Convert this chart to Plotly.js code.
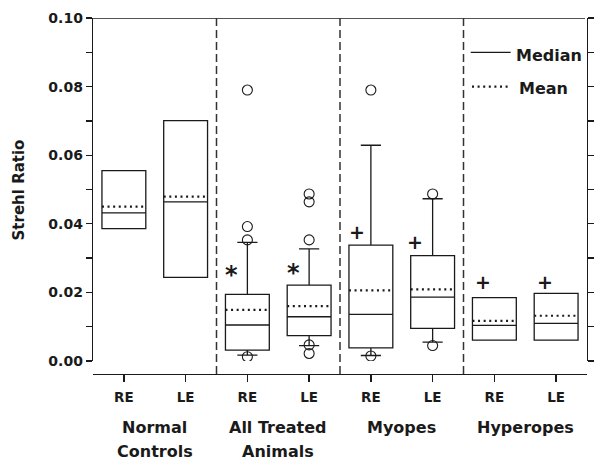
<!DOCTYPE html>
<html>
<head>
<meta charset="utf-8">
<script src="https://cdn.plot.ly/plotly-3.0.1.min.js"></script>
<style>html,body{margin:0;padding:0;background:#fff;}#chart{width:607px;height:466px;}</style>
</head>
<body>
<div id="chart"></div>
<script>
// ---- data ----
var positions   = [0, 1, 2, 3, 4, 5, 6, 7];
var eyeLabels   = ["RE", "LE", "RE", "LE", "RE", "LE", "RE", "LE"];
var groupLine1  = ["Normal", "All Treated", "Myopes", "Hyperopes"];
var groupLine2  = ["Controls", "Animals", "", ""];
var groupCenters = [0.5, 2.5, 4.5, 6.5];
var separators  = [1.5, 3.5, 5.5];

var q1         = [0.0386, 0.0244, 0.0032, 0.0074, 0.0038, 0.0095, 0.0061, 0.0061];
var medians    = [0.0432, 0.0464, 0.0105, 0.0129, 0.0136, 0.0186, 0.0104, 0.0110];
var q3         = [0.0555, 0.0701, 0.0194, 0.0221, 0.0338, 0.0307, 0.0185, 0.0197];
var lowerFence = [0.0386, 0.0244, 0.0017, 0.0045, 0.0016, 0.0055, 0.0061, 0.0061];
var upperFence = [0.0555, 0.0701, 0.0346, 0.0327, 0.0629, 0.0473, 0.0185, 0.0197];
var means      = [0.0450, 0.0479, 0.0149, 0.0160, 0.0206, 0.0209, 0.0117, 0.0132];

var outlierX = [2, 2, 2, 2, 3, 3, 3, 3, 3, 4, 4, 5, 5];
var outlierY = [0.0790, 0.0392, 0.0353, 0.00125, 0.0487, 0.0464, 0.0353, 0.0047, 0.0022, 0.0790, 0.00146, 0.0487, 0.0045];

var sigText = ["*", "*", "+", "+", "+", "+"];
var sigX    = [1.75, 2.74, 3.77, 4.71, 5.82, 6.82];
var sigY    = [0.0250, 0.0257, 0.0375, 0.0348, 0.0229, 0.0231];

var yTickVals = [0, 0.01, 0.02, 0.03, 0.04, 0.05, 0.06, 0.07, 0.08, 0.09, 0.10];
var yTickText = ["0.00", "", "0.02", "", "0.04", "", "0.06", "", "0.08", "", "0.10"];

// ---- build ----
var INK = "#1a1a1a";
var FONT = "DejaVu Sans";
var boxW = 0.71;

var traces = [];
traces.push({
  type: "box",
  x: positions,
  q1: q1, median: medians, q3: q3,
  lowerfence: lowerFence, upperfence: upperFence,
  width: boxW,
  whiskerwidth: 0.46,
  boxpoints: false,
  fillcolor: "rgba(0,0,0,0)",
  line: {color: INK, width: 1.3},
  hoverinfo: "skip",
  showlegend: false
});

// mean dotted lines
var mx = [], my = [];
for (var i = 0; i < positions.length; i++) {
  mx.push(positions[i] - boxW / 2, positions[i] + boxW / 2, null);
  my.push(means[i], means[i], null);
}
traces.push({
  type: "scatter", mode: "lines", x: mx, y: my,
  line: {color: INK, width: 2.2, dash: "2px,3.6px"},
  hoverinfo: "skip", showlegend: false
});

// outliers
traces.push({
  type: "scatter", mode: "markers", x: outlierX, y: outlierY,
  marker: {symbol: "circle-open", size: 10, color: INK, line: {width: 1.1, color: INK}},
  hoverinfo: "skip", showlegend: false
});

var shapes = [];
// top frame line
shapes.push({type: "line", xref: "paper", yref: "y", x0: 0, x1: 0.996, y0: 0.10, y1: 0.10,
  line: {color: INK, width: 1.3}});
// group separators
separators.forEach(function (s) {
  shapes.push({type: "line", xref: "x", yref: "paper", x0: s, x1: s, y0: 0, y1: 1,
    line: {color: "#333", width: 1.5, dash: "8px,4px"}});
});
// legend samples
shapes.push({type: "line", xref: "paper", yref: "paper", x0: 0.7646, x1: 0.8455, y0: 0.9036, y1: 0.9036,
  line: {color: INK, width: 1.3}});
shapes.push({type: "line", xref: "paper", yref: "paper", x0: 0.7672, x1: 0.8441, y0: 0.807, y1: 0.807,
  line: {color: INK, width: 2.2, dash: "2px,3.6px"}});

var annotations = [];
// y axis title
annotations.push({text: "Strehl Ratio", xref: "paper", yref: "paper", x: -0.1508, y: 0.517,
  xanchor: "center", yanchor: "middle", textangle: -90, showarrow: false,
  font: {family: FONT, size: 15, color: INK, weight: "bold"}});
// group labels
for (var g = 0; g < groupCenters.length; g++) {
  annotations.push({text: groupLine1[g], xref: "x", yref: "paper", x: groupCenters[g], y: -0.1508,
    xanchor: "center", yanchor: "middle", showarrow: false,
    font: {family: FONT, size: 16, color: INK, weight: "bold"}});
  if (groupLine2[g]) {
    annotations.push({text: groupLine2[g], xref: "x", yref: "paper", x: groupCenters[g], y: -0.2163,
      xanchor: "center", yanchor: "middle", showarrow: false,
      font: {family: FONT, size: 16, color: INK, weight: "bold"}});
  }
}
// significance marks
for (var k = 0; k < sigText.length; k++) {
  annotations.push({text: sigText[k], xref: "x", yref: "y", x: sigX[k], y: sigY[k],
    xanchor: "center", yanchor: "middle", showarrow: false,
    font: {family: FONT, size: sigText[k] === "*" ? 24 : 19, color: INK, weight: "bold"}});
}
// legend text
annotations.push({text: "Median", xref: "paper", yref: "paper", x: 0.8528, y: 0.896,
  xanchor: "left", yanchor: "middle", showarrow: false,
  font: {family: FONT, size: 16, color: INK, weight: "bold"}});
annotations.push({text: "Mean", xref: "paper", yref: "paper", x: 0.859, y: 0.802,
  xanchor: "left", yanchor: "middle", showarrow: false,
  font: {family: FONT, size: 16, color: INK, weight: "bold"}});

var layout = {
  width: 607, height: 466,
  margin: {l: 93, r: 20, t: 18, b: 92},
  paper_bgcolor: "#fff", plot_bgcolor: "#fff",
  showlegend: false,
  xaxis: {
    range: [-0.5, 7.5], anchor: "free", position: 0,
    tickmode: "array", tickvals: positions, ticktext: eyeLabels,
    ticks: "outside", ticklen: 7, tickwidth: 1.3, tickcolor: INK,
    showline: true, linecolor: INK, linewidth: 1.3,
    showgrid: false, zeroline: false,
    ticklabelstandoff: 3,
    tickfont: {family: FONT, size: 13.5, color: INK, weight: "bold"}
  },
  yaxis: {
    range: [0, 0.10], domain: [0.0365, 1], anchor: "x",
    tickmode: "array", tickvals: yTickVals, ticktext: yTickText,
    ticks: "outside", ticklen: 6, tickwidth: 1.3, tickcolor: INK,
    showline: true, linecolor: INK, linewidth: 1.3, mirror: "ticks",
    showgrid: false, zeroline: false,
    tickfont: {family: FONT, size: 14, color: INK, weight: "bold"}
  },
  shapes: shapes,
  annotations: annotations
};

Plotly.newPlot("chart", traces, layout, {displayModeBar: false, staticPlot: true});
</script>
</body>
</html>
